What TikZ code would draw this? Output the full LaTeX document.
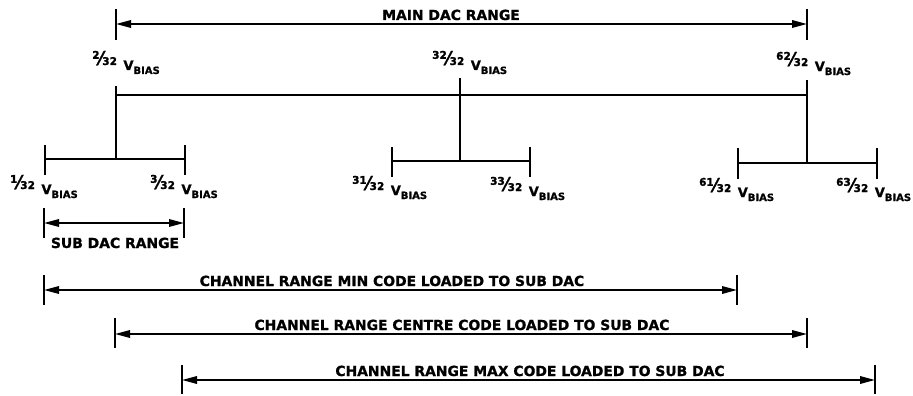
\documentclass[tikz,border=0pt]{standalone}
\usepackage{fontspec}
\setmainfont{DejaVu Sans}[BoldFont={DejaVu Sans Bold},BoldFeatures={FakeBold=1}]
\usetikzlibrary{arrows.meta}
\newcommand\frn[1]{\raisebox{5pt}{\scalebox{0.88}[1]{\fontsize{19}{19}\selectfont #1⁄₃₂}}}
\newcommand\vbs{V\raisebox{-4pt}{\fontsize{10}{10}\selectfont BIAS}}
\newcommand\lab[1]{\frn{#1}\hspace{6.5pt}\vbs}
\tikzset{
  txt/.style={font=\bfseries\fontsize{13.9}{15}\selectfont, inner sep=0pt},
  vlab/.style={font=\bfseries\fontsize{13}{14}\selectfont, inner sep=0pt, anchor=base west},
  rng/.style={line width=1.8pt, {Triangle[length=15pt,width=7.5pt]}-{Triangle[length=15pt,width=7.5pt]}},
  tick/.style={line width=1.6pt},
  bar/.style={line width=2.4pt},
}
\begin{document}
\begin{tikzpicture}[x=1pt,y=-1pt]
\useasboundingbox (0,0) rectangle (913,396);
% main dac range
\coordinate (mL) at (116,24); \coordinate (mR) at (807,24);
\draw[tick] (116,9) -- (116,40);
\draw[tick] (807,9) -- (807,40);
\draw[rng] (mL) -- (mR);
\node[txt, anchor=base] (mtxt) at (451,20) {MAIN DAC RANGE};
% top labels
\node[vlab] (l2) at (92,70) {\lab{²}};
\node[vlab] (l32) at (432,70) {\lab{³²}};
\node[vlab] (l62) at (776,71) {\lab{⁶²}};
% main bar
\coordinate (a) at (116,95); \coordinate (b) at (460,95); \coordinate (c) at (807,95);
\draw[bar] (a) -- (c);
\draw[bar] (116,86) -- (116,159);
\draw[bar] (460,78) -- (460,161);
\draw[bar] (807,80) -- (807,163);
% sub bars
\draw[bar] (45,159) -- (185,159);
\draw[tick] (45,145) -- (45,175);
\draw[tick] (185,145) -- (185,175);
\draw[bar] (392,161) -- (530,161);
\draw[tick] (392,147) -- (392,177);
\draw[tick] (530,147) -- (530,177);
\draw[bar] (738,163) -- (877,163);
\draw[tick] (738,148) -- (738,179);
\draw[tick] (877,148) -- (877,179);
% sub labels
\node[vlab] (l1) at (10,194) {\lab{¹}};
\node[vlab] (l3) at (150,194) {\lab{³}};
\node[vlab] (l31) at (352,195) {\lab{³¹}};
\node[vlab] (l33) at (490,196) {\lab{³³}};
\node[vlab] (l61) at (699,197) {\lab{⁶¹}};
\node[vlab] (l63) at (836,197) {\lab{⁶³}};
% sub dac range
\coordinate (sL) at (44,223); \coordinate (sR) at (184,223);
\draw[tick] (44,208) -- (44,238);
\draw[tick] (184,208) -- (184,238);
\draw[rng] (sL) -- (sR);
\node[txt, anchor=base] (stxt) at (115,248) {SUB DAC RANGE};
% channel min
\coordinate (nL) at (44,290); \coordinate (nR) at (737,290);
\draw[tick] (44,275) -- (44,305);
\draw[tick] (737,275) -- (737,305);
\draw[rng] (nL) -- (nR);
\node[txt, anchor=base] (ntxt) at (392,286) {CHANNEL RANGE MIN CODE LOADED TO SUB DAC};
% channel centre
\coordinate (cL) at (115,334); \coordinate (cR) at (807,334);
\draw[tick] (115,318) -- (115,348);
\draw[tick] (807,318) -- (807,348);
\draw[rng] (cL) -- (cR);
\node[txt, anchor=base] (ctxt) at (462,330) {CHANNEL RANGE CENTRE CODE LOADED TO SUB DAC};
% channel max
\coordinate (xL) at (182,380); \coordinate (xR) at (875,380);
\draw[tick] (182,365) -- (182,394);
\draw[tick] (875,365) -- (875,394);
\draw[rng] (xL) -- (xR);
\node[txt, anchor=base] (xtxt) at (530,376) {CHANNEL RANGE MAX CODE LOADED TO SUB DAC};
\end{tikzpicture}
\end{document}
